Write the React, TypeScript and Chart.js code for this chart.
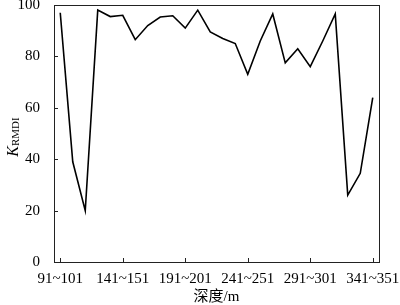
import React, { useEffect, useRef } from "react";
import { Chart, registerables } from "chart.js";

Chart.register(...registerables);

const depthStarts = [91, 101, 111, 121, 131, 141, 151, 161, 171, 181, 191, 201, 211, 221, 231, 241, 251, 261, 271, 281, 291, 301, 311, 321, 331, 341];
const categories = depthStarts.map((d) => `${d}~${d + 10}`);
const kValues = [97, 39, 20, 98, 95.5, 96, 86.5, 92, 95.3, 95.8, 91, 98, 89.5, 87, 85, 73, 86, 96.5, 77.5, 83, 76, 86, 96.5, 26, 34.5, 64];
const yTicks = [0, 20, 40, 60, 80, 100];
const labelEvery = 5;

const SERIF = '"Liberation Serif", "Times New Roman", serif';

const framePlugin = {
  id: "frame",
  afterDraw(chart: any) {
    const { ctx, chartArea } = chart;
    const x = chart.scales.x;
    const y = chart.scales.y;
    ctx.save();
    ctx.strokeStyle = "#222";
    ctx.lineWidth = 1;
    ctx.strokeRect(Math.round(chartArea.left) + 0.5, Math.round(chartArea.top) + 0.5,
      Math.round(chartArea.right - chartArea.left), Math.round(chartArea.bottom - chartArea.top));
    ctx.beginPath();
    categories.forEach((_, i) => {
      if (i % labelEvery !== 0) return;
      const px = Math.round(x.getPixelForValue(i)) + 0.5;
      ctx.moveTo(px, chartArea.bottom);
      ctx.lineTo(px, chartArea.bottom - 4);
    });
    yTicks.forEach((v) => {
      const py = Math.round(y.getPixelForValue(v)) + 0.5;
      ctx.moveTo(chartArea.left, py);
      ctx.lineTo(chartArea.left + 4, py);
    });
    ctx.stroke();

    ctx.fillStyle = "#000";
    ctx.font = `15px ${SERIF}, "Noto Sans CJK SC"`;
    ctx.textAlign = "center";
    ctx.textBaseline = "alphabetic";
    ctx.fillText("深度/m", (chartArea.left + chartArea.right) / 2, 301);

    ctx.font = `italic 16px ${SERIF}`;
    const kW = ctx.measureText("K").width;
    ctx.font = `11px ${SERIF}`;
    const sW = ctx.measureText("RMDI").width;
    const total = kW + sW;
    const cy = 137;
    ctx.translate(18, cy + total / 2);
    ctx.rotate(-Math.PI / 2);
    ctx.textAlign = "left";
    ctx.font = `italic 16px ${SERIF}`;
    ctx.fillText("K", 0, 0);
    ctx.font = `11px ${SERIF}`;
    ctx.fillText("RMDI", kW, 1);
    ctx.restore();
  },
};

export default function App() {
  const canvasRef = useRef<HTMLCanvasElement | null>(null);

  useEffect(() => {
    document.body.style.margin = "0";
    const canvas = canvasRef.current;
    if (!canvas) return;
    const chart = new Chart(canvas, {
      type: "line",
      data: {
        labels: categories,
        datasets: [
          {
            data: kValues,
            borderColor: "#000",
            borderWidth: 1.6,
            pointRadius: 0,
            tension: 0,
            fill: false,
          },
        ],
      },
      options: {
        responsive: false,
        animation: false,
        layout: { padding: { top: 5, right: 21, left: 0, bottom: 0 } },
        plugins: { legend: { display: false }, tooltip: { enabled: false } },
        scales: {
          x: {
            type: "category",
            offset: true,
            grid: { display: false },
            border: { display: false },
            afterFit: (s: any) => { s.height = 43; s.paddingLeft = 0; s.paddingRight = 0; },
            ticks: {
              autoSkip: false,
              maxRotation: 0,
              minRotation: 0,
              padding: 0,
              color: "#000",
              font: { family: SERIF, size: 15 },
              callback: (_v: any, i: number) => (i % labelEvery === 0 ? categories[i] : ""),
            },
          },
          y: {
            min: 0,
            max: 100,
            grid: { display: false },
            border: { display: false },
            afterFit: (s: any) => { s.width = 54; s.paddingTop = 0; s.paddingBottom = 0; },
            afterBuildTicks: (s: any) => { s.ticks = yTicks.map((v) => ({ value: v })); },
            ticks: {
              padding: 6,
              color: "#000",
              font: { family: SERIF, size: 15 },
            },
          },
        },
      },
      plugins: [framePlugin],
    });
    return () => chart.destroy();
  }, []);

  return (
    <div style={{ width: 400, height: 305 }}>
      <canvas ref={canvasRef} width={400} height={305} style={{ display: "block" }} />
    </div>
  );
}
